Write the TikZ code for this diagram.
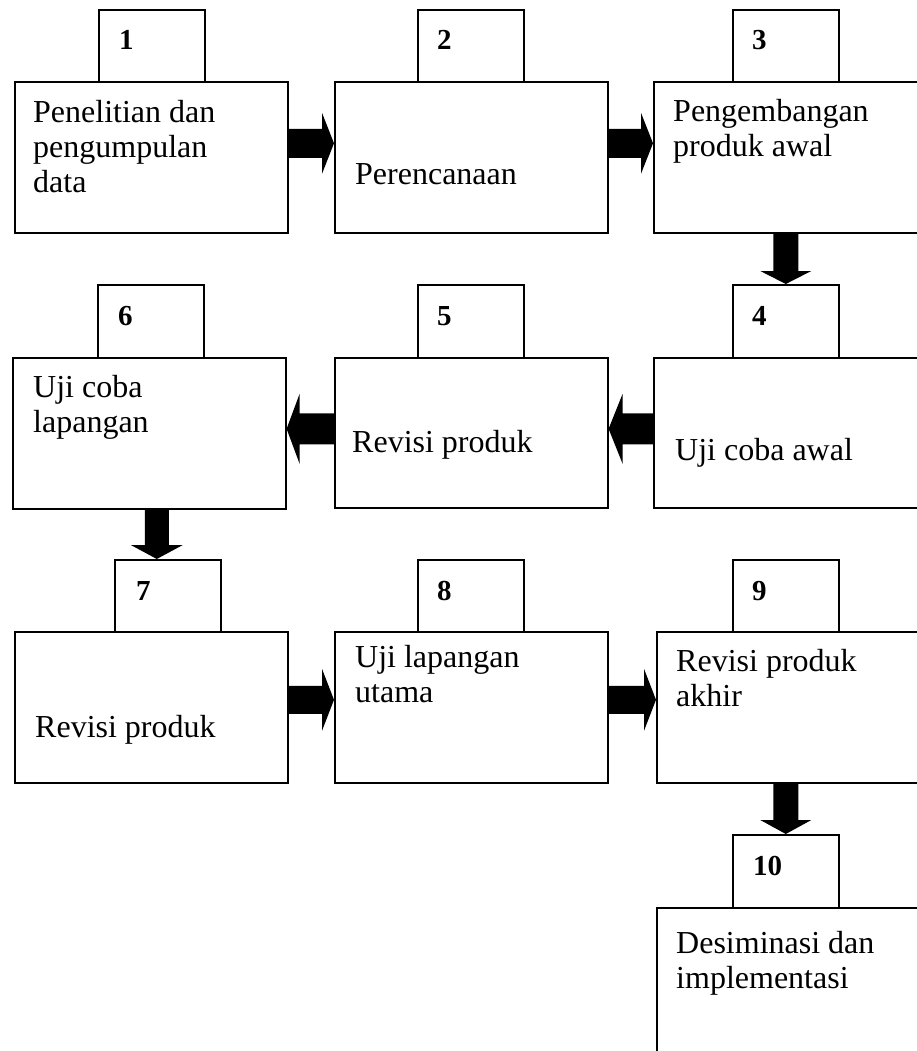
\documentclass[tikz,border=0pt]{standalone}
\usepackage{fontspec}
\setmainfont{Liberation Serif}
\usetikzlibrary{calc}
\tikzset{
  box/.style={draw, line width=1.6pt, inner sep=0pt, anchor=north west, minimum width=273pt, minimum height=151pt},
  numbox/.style={draw, line width=1.6pt, inner sep=0pt, anchor=north west, minimum width=106pt, minimum height=72.5pt},
  txt/.style={anchor=base west, inner sep=0pt, align=left, font=\fontsize{32}{35}\selectfont},
  num/.style={anchor=base west, inner sep=0pt, font=\fontsize{29}{32}\selectfont\bfseries},
}
% horizontal fat arrow: #1 start, #2 end, #3 shaft half width, #4 head half width, #5 head length
\newcommand\HArrow[5]{\fill let \p1=(#1),\p2=(#2),\n1={sign(\x2-\x1)} in
  ({\x1},{\y1+#3}) -- ({\x2-\n1*#5},{\y1+#3}) -- ({\x2-\n1*#5},{\y1+#4}) -- ({\x2},{\y1})
  -- ({\x2-\n1*#5},{\y1-#4}) -- ({\x2-\n1*#5},{\y1-#3}) -- ({\x1},{\y1-#3}) -- cycle;}
% vertical fat arrow
\newcommand\VArrow[5]{\fill let \p1=(#1),\p2=(#2),\n1={sign(\y2-\y1)} in
  ({\x1-#3},{\y1}) -- ({\x1-#3},{\y2-\n1*#5}) -- ({\x1-#4},{\y2-\n1*#5}) -- ({\x1},{\y2})
  -- ({\x1+#4},{\y2-\n1*#5}) -- ({\x1+#3},{\y2-\n1*#5}) -- ({\x1+#3},{\y1}) -- cycle;}
\begin{document}
\begin{tikzpicture}[x=1pt,y=-1pt]
\useasboundingbox (0,0) rectangle (917,1051);
\clip (0,0) rectangle (917,1051);

% row 1
\node[box] (b1) at (14,81) {};
\node[box] (b2) at (334,81) {};
\node[box, minimum width=400pt] (b3) at (653,81) {};
\node[numbox] (s1) at (98,9) {};
\node[numbox] (s2) at (417,9) {};
\node[numbox] (s3) at (732,9) {};
\node[num] (n1) at (119,50) {1};
\node[num] (n2) at (437,50) {2};
\node[num] (n3) at (752,50) {3};
\node[txt] (t1) at (33,193) {Penelitian dan\\pengumpulan\\data};
\node[txt] (t2) at (355,185) {Perencanaan};
\node[txt] (t3) at (673,157) {Pengembangan\\produk awal};

% row 2
\node[box] (b6) at (12,357) {};
\node[box, minimum height=150pt] (b5) at (334,357) {};
\node[box, minimum width=400pt, minimum height=150pt] (b4) at (653,357) {};
\node[numbox] (s6) at (97,284) {};
\node[numbox] (s5) at (417,284) {};
\node[numbox] (s4) at (732,284) {};
\node[num] (n6) at (118,325) {6};
\node[num] (n5) at (437,325) {5};
\node[num] (n4) at (752,325) {4};
\node[txt] (t6) at (33,432) {Uji coba\\lapangan};
\node[txt] (t5) at (352,452) {Revisi produk};
\node[txt] (t4) at (675,460) {Uji coba awal};

% row 3
\node[box] (b7) at (14,631) {};
\node[box] (b8) at (334,631) {};
\node[box, minimum width=400pt] (b9) at (656,631) {};
\node[numbox] (s7) at (114,559) {};
\node[numbox] (s8) at (417,559) {};
\node[numbox] (s9) at (732,559) {};
\node[num] (n7) at (136,600) {7};
\node[num] (n8) at (437,600) {8};
\node[num] (n9) at (752,600) {9};
\node[txt] (t7) at (35,737) {Revisi produk};
\node[txt] (t8) at (355,702) {Uji lapangan\\utama};
\node[txt] (t9) at (676,706) {Revisi produk\\akhir};

% step 10
\node[box, minimum width=400pt, minimum height=250pt] (b10) at (656,907) {};
\node[numbox, minimum height=73pt] (s10) at (732,834) {};
\node[num] (n10) at (753,875) {10};
\node[txt] (t10) at (676,988) {Desiminasi dan\\implementasi};

% arrows
\HArrow{[yshift=14pt]b1.east}{b2.west}{14.5pt}{30.5pt}{12pt}
\HArrow{[yshift=14pt]b2.east}{b3.west}{14.5pt}{30.5pt}{12pt}
\VArrow{b3.south -| s4.north}{s4.north}{12.5pt}{25.5pt}{13pt}
\HArrow{[yshift=4pt]b4.west}{b5.east}{15.5pt}{35pt}{14pt}
\HArrow{[yshift=4pt]b5.west}{b6.east}{15.5pt}{35pt}{13pt}
\VArrow{[xshift=7.5pt]b6.south}{s7.north}{12pt}{26pt}{14pt}
\HArrow{[yshift=7.5pt]b7.east}{b8.west}{14pt}{31pt}{12pt}
\HArrow{[yshift=7.5pt]b8.east}{b9.west}{14pt}{31pt}{12pt}
\VArrow{b9.south -| s10.north}{s10.north}{12.5pt}{25.5pt}{14pt}
\end{tikzpicture}
\end{document}
